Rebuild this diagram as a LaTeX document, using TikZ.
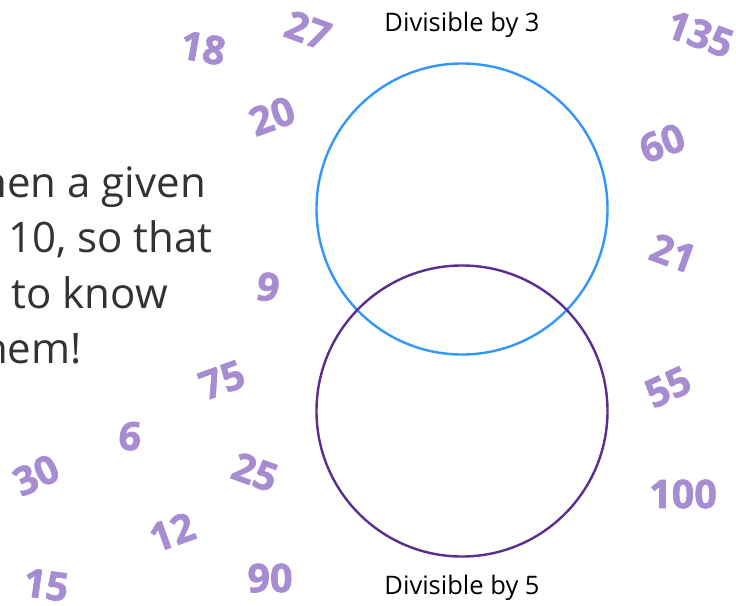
\documentclass[tikz,border=0pt]{standalone}
\usepackage{fontspec}
\setmainfont{Open Sans}
\newfontfamily\numfont{Open Sans}[BoldFeatures={FakeBold=1.6}]
\definecolor{lav}{RGB}{168,140,210}
\definecolor{topc}{RGB}{51,150,250}
\definecolor{botc}{RGB}{90,45,145}
\definecolor{txt}{RGB}{51,51,51}
\begin{document}
\begin{tikzpicture}[x=1pt,y=-1pt,
  num/.style={text=lav,inner sep=0pt,font=\numfont\fontsize{39.5}{42}\selectfont\bfseries},
  body/.style={text=txt,inner sep=0pt,anchor=base east,font=\fontsize{42}{46}\selectfont},
  lab/.style={inner sep=0pt,font=\fontsize{25.5}{28}\selectfont},
  ring/.style={circle,draw,line width=2.4pt,minimum size=291pt,inner sep=0pt}]
\useasboundingbox (0,0) rectangle (736,605);
\begin{scope}
\clip (0,0) rectangle (736,605);
\node[body] (l1) at (206,197) {hen a given};
\node[body] (l2) at (213,252) {10, so that};
\node[body] (l3) at (168,308) {to know};
\node[body] (l4) at (82,363) {hem!};
\end{scope}
\node[ring,draw=topc] (A) at (462,209) {};
\node[ring,draw=botc] (B) at (462,411) {};
\node[lab] (LA) at (462,25) {Divisible by 3};
\node[lab] (LB) at (462,588) {Divisible by 5};
\node[num,rotate=-10] (n18) at (203,48) {18};
\node[num,rotate=-20] (n27) at (308,30) {27};
\node[num,rotate=20] (n20) at (272,116) {20};
\node[num,rotate=-20] (n135) at (700,34) {135};
\node[num,rotate=20] (n60) at (662,143) {60};
\node[num,rotate=-20] (n21) at (673,253) {21};
\node[num,rotate=-10] (n9) at (268,287) {9};
\node[num,rotate=20] (n75) at (222,380) {75};
\node[num,rotate=-5] (n6) at (130,436) {6};
\node[num,rotate=25] (n30) at (36,475) {30};
\node[num,rotate=-20] (n25) at (255,472) {25};
\node[num,rotate=20] (n12) at (172,532) {12};
\node[num,rotate=-8] (n15) at (46,585) {15};
\node[num] (n90) at (270,578) {90};
\node[num,rotate=25] (n55) at (668,387) {55};
\node[num] (n100) at (683,494) {100};
\end{tikzpicture}
\end{document}
